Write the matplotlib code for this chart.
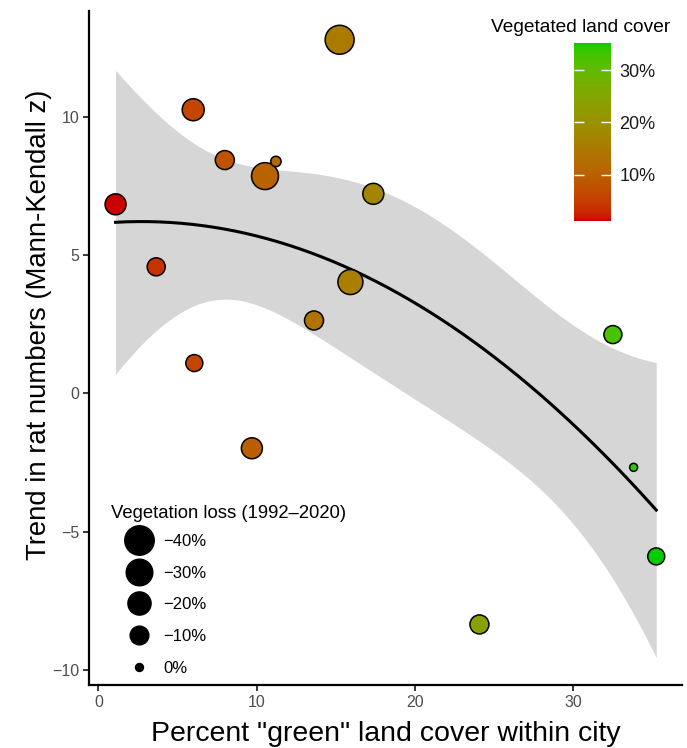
import numpy as np
import matplotlib
matplotlib.use("Agg")
import matplotlib.pyplot as plt
from matplotlib.colors import ListedColormap, Normalize
from matplotlib.cm import ScalarMappable
from matplotlib.lines import Line2D

plt.rcParams["font.family"] = ["Liberation Sans", "DejaVu Sans"]

# data
green_pct = [1.08, 3.65, 5.99, 6.06, 7.99, 10.53, 11.22, 9.70,
             13.63, 15.25, 15.93, 17.38, 24.09, 32.53, 33.84, 35.27]
trend_z = [6.84, 4.58, 10.26, 1.10, 8.44, 7.86, 8.39, -1.98,
           2.64, 12.79, 4.03, 7.22, -8.35, 2.13, -2.67, -5.89]
veg_loss = [-14.6, -8.7, -17.0, -7.0, -10.5, -31.0, -0.5, -14.6,
            -10.5, -38.0, -25.0, -14.6, -10.5, -8.7, 0.0, -7.0]

legend_loss = [-40, -30, -20, -10, 0]
legend_labels = ["\u221240%", "\u221230%", "\u221220%", "\u221210%", "0%"]
cbar_ticks = [10, 20, 30]

x = np.array(green_pct)
y = np.array(trend_z)
loss = np.array(veg_loss)


# ggplot-like gradient (interpolation in Lab space) from red3 to green3
def srgb_to_lab(c):
    c = np.asarray(c, float)
    lin = np.where(c <= 0.04045, c / 12.92, ((c + 0.055) / 1.055) ** 2.4)
    M = np.array([[0.4124, 0.3576, 0.1805],
                  [0.2126, 0.7152, 0.0722],
                  [0.0193, 0.1192, 0.9505]])
    xyz = M @ lin / np.array([0.95047, 1.0, 1.08883])
    f = np.where(xyz > 0.008856, np.cbrt(xyz), 7.787 * xyz + 16 / 116)
    return np.array([116 * f[1] - 16, 500 * (f[0] - f[1]), 200 * (f[1] - f[2])])


def lab_to_srgb(lab):
    L, a, b = lab
    fy = (L + 16) / 116
    fx = fy + a / 500
    fz = fy - b / 200
    f = np.array([fx, fy, fz])
    xyz = np.where(f ** 3 > 0.008856, f ** 3, (f - 16 / 116) / 7.787)
    xyz = xyz * np.array([0.95047, 1.0, 1.08883])
    Minv = np.array([[3.2406, -1.5372, -0.4986],
                     [-0.9689, 1.8758, 0.0415],
                     [0.0557, -0.2040, 1.0570]])
    lin = Minv @ xyz
    c = np.where(lin <= 0.0031308, 12.92 * lin, 1.055 * np.clip(lin, 0, None) ** (1 / 2.4) - 0.055)
    return np.clip(c, 0, 1)


low = srgb_to_lab(np.array([205, 0, 0]) / 255)
high = srgb_to_lab(np.array([0, 205, 0]) / 255)
cmap = ListedColormap([lab_to_srgb(low + (high - low) * t) for t in np.linspace(0, 1, 256)])
norm = Normalize(vmin=x.min(), vmax=x.max())


def loss_to_size(v):
    d_px = 8 + 3.4 * np.sqrt(np.abs(np.asarray(v, float)))
    return d_px * 0.72  # diameter in points


# quadratic fit with confidence band
X = np.vander(x, 3)
beta, *_ = np.linalg.lstsq(X, y, rcond=None)
resid = y - X @ beta
s2 = resid @ resid / (len(x) - 3)
cov = s2 * np.linalg.inv(X.T @ X)
xs = np.linspace(x.min(), x.max(), 200)
Xg = np.vander(xs, 3)
fit = Xg @ beta
se = np.sqrt(np.einsum("ij,jk,ik->i", Xg, cov, Xg))
z_crit = 1.645

fig = plt.figure(figsize=(6.87, 7.48), dpi=100)
ax = fig.add_axes([89 / 687, 63 / 748, 593 / 687, 674 / 748])

ax.fill_between(xs, fit - z_crit * se, fit + z_crit * se, color="#d6d6d6", lw=0, zorder=1)
ax.plot(xs, fit, color="black", lw=2.2, zorder=2)
ax.scatter(x, y, s=loss_to_size(loss) ** 2, c=x, cmap=cmap, norm=norm,
           edgecolors="black", linewidths=1.1, zorder=3)

ax.set_xlim(-0.6, 36.9)
ax.set_ylim(-10.54, 13.83)
ax.set_xticks([0, 10, 20, 30])
ax.set_yticks([-10, -5, 0, 5, 10])
ax.set_yticklabels(["\u221210", "\u22125", "0", "5", "10"])
for side in ["top", "right"]:
    ax.spines[side].set_visible(False)
for side in ["left", "bottom"]:
    ax.spines[side].set_linewidth(1.6)
ax.tick_params(length=4, width=1.1, labelsize=11.5, labelcolor="#4d4d4d", pad=3)
ax.set_xlabel('Percent "green" land cover within city', fontsize=20.5, labelpad=8)
ax.set_ylabel("Trend in rat numbers (Mann-Kendall z)", fontsize=19.8)
ax.yaxis.set_label_coords(-0.062, 0.534)

# size legend
handles = [Line2D([], [], ls="none", marker="o", markersize=loss_to_size(v),
                  markerfacecolor="black", markeredgecolor="black") for v in legend_loss]
leg = ax.legend(handles, legend_labels, loc="upper left",
                bbox_to_anchor=(124 / 687, 1 - 534 / 748),
                bbox_transform=fig.transFigure, frameon=False, fontsize=12,
                labelspacing=1.0, handletextpad=0.5, handlelength=1.85,
                borderpad=0, borderaxespad=0)
fig.text(111 / 687, 1 - 514 / 748, "Vegetation loss (1992\u20132020)",
         ha="left", va="center", fontsize=13.3)

# colour bar
cax = fig.add_axes([574 / 687, 1 - 221 / 748, 37 / 687, 178 / 748])
cb = fig.colorbar(ScalarMappable(norm=norm, cmap=cmap), cax=cax, ticks=cbar_ticks)
cb.outline.set_visible(False)
cb.set_ticklabels([f"{t}%" for t in cbar_ticks])
cax.tick_params(axis="y", direction="in", length=7, width=1, color="white",
                left=True, right=True, labelleft=False, labelright=True,
                labelsize=13, labelcolor="#1a1a1a", pad=6)
fig.text(670 / 687, 1 - 27 / 748, "Vegetated land cover", ha="right", va="center", fontsize=13.8)

fig.savefig("out.png", dpi=100)
